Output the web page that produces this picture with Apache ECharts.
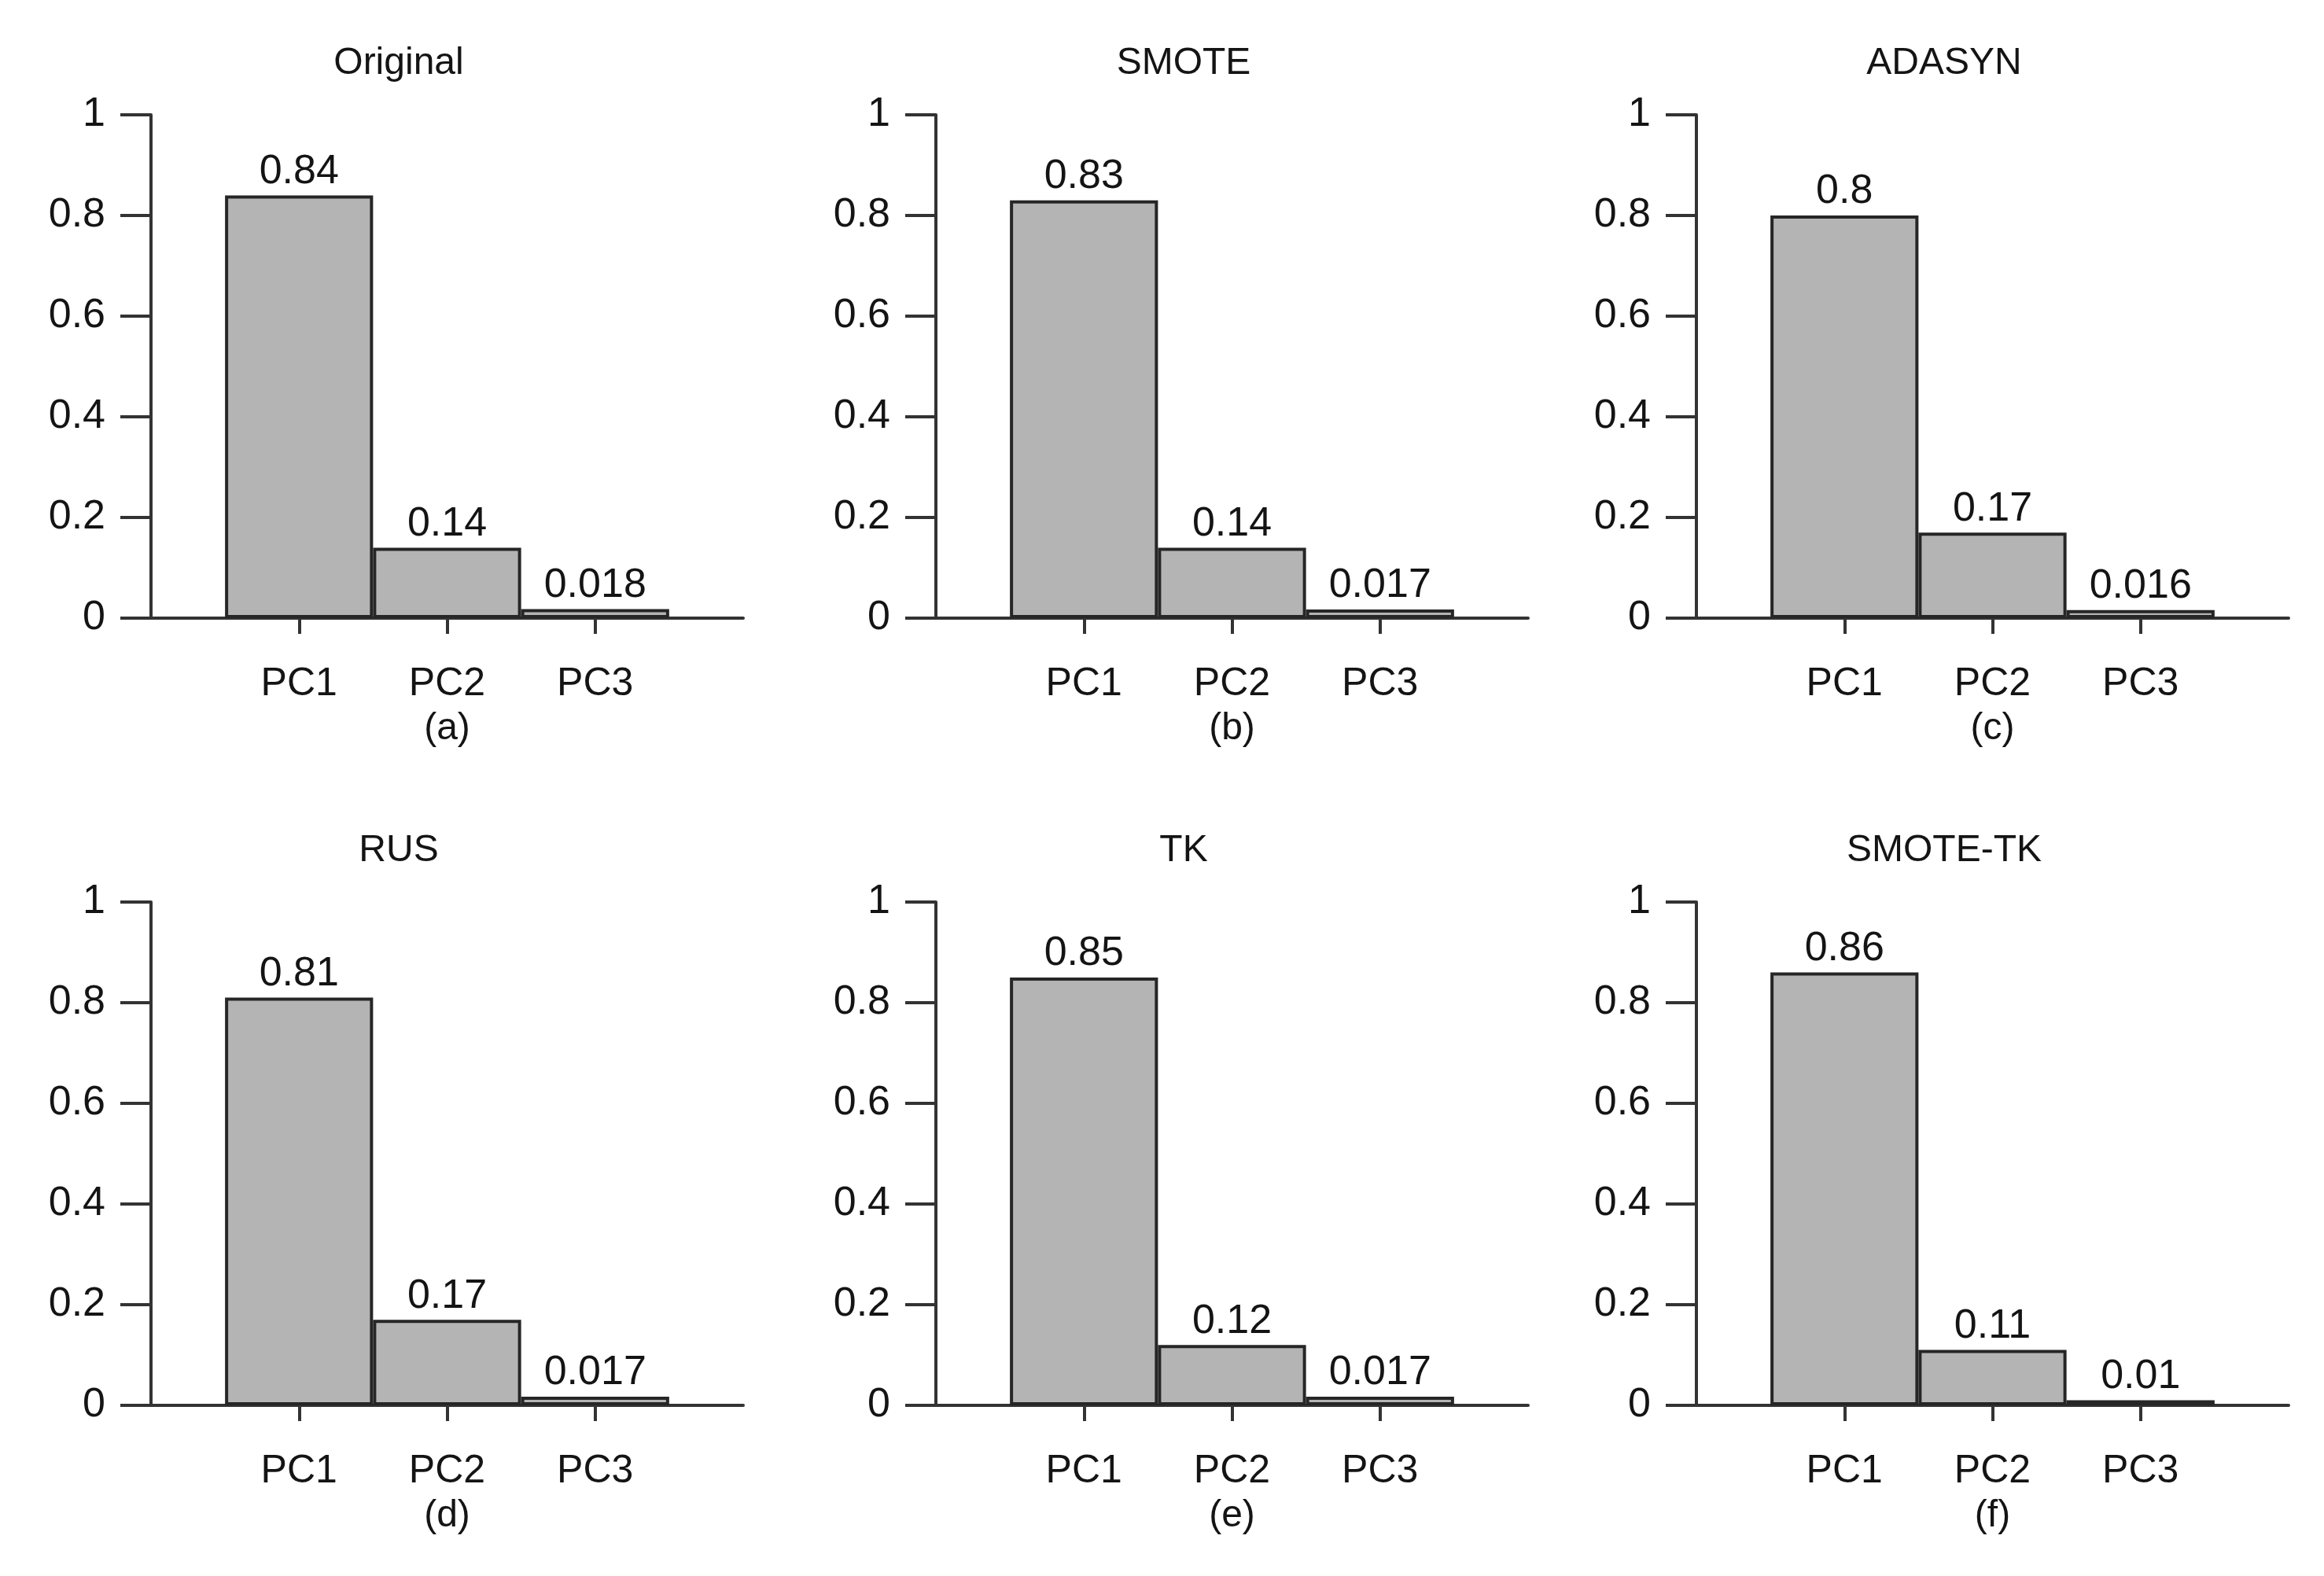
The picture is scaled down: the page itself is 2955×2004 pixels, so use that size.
<!DOCTYPE html>
<html>
<head>
<meta charset="utf-8">
<script src="https://cdn.jsdelivr.net/npm/echarts@6/dist/echarts.min.js"></script>
<style>
  html, body { margin: 0; padding: 0; background: #ffffff; }
  #chart { width: 2955px; height: 2004px; }
</style>
</head>
<body>
<div id="chart"></div>
<script>
// ---- Data ----
const categories = ['PC1', 'PC2', 'PC3'];
const panelTitles = ['Original', 'SMOTE', 'ADASYN', 'RUS', 'TK', 'SMOTE-TK'];
const panelLetters = ['(a)', '(b)', '(c)', '(d)', '(e)', '(f)'];
const originalValues = [0.84, 0.14, 0.018];
const smoteValues = [0.83, 0.14, 0.017];
const adasynValues = [0.8, 0.17, 0.016];
const rusValues = [0.81, 0.17, 0.017];
const tkValues = [0.85, 0.12, 0.017];
const smoteTkValues = [0.86, 0.11, 0.01];
const yMin = 0, yMax = 1, yStep = 0.2;

// ---- Layout ----
const panelValues = [originalValues, smoteValues, adasynValues, rusValues, tkValues, smoteTkValues];
const colLeft = [192, 1190, 2157];
const rowTop = [146, 1147];
const gridW = 753, gridH = 640;
const FONT = "'Liberation Sans', Arial, Helvetica, sans-serif";
const TXT = '#141414';
const LINE = '#333333';

const grids = [], xAxes = [], yAxes = [], series = [], titles = [];
// padded category axis: empty slot at the y-axis and one after the last bar
const axisCats = [''].concat(categories, ['']);

panelValues.forEach((vals, i) => {
  const r = Math.floor(i / 3), c = i % 3;
  grids.push({ left: colLeft[c], top: rowTop[r], width: gridW, height: gridH });
  xAxes.push({
    gridIndex: i,
    type: 'category',
    data: axisCats,
    boundaryGap: false,
    axisLine: { show: true, lineStyle: { color: LINE, width: 4 } },
    axisTick: {
      show: true, inside: false, length: 20,
      interval: (idx) => idx >= 1 && idx <= categories.length,
      lineStyle: { color: LINE, width: 4 }
    },
    axisLabel: { interval: 0, margin: 59, fontSize: 50, color: TXT, fontFamily: FONT },
    splitLine: { show: false },
    name: panelLetters[i],
    nameLocation: 'middle',
    nameGap: 117,
    nameTextStyle: { fontSize: 48, color: TXT, fontFamily: FONT }
  });
  yAxes.push({
    gridIndex: i,
    type: 'value',
    min: yMin, max: yMax, interval: yStep,
    axisLine: { show: true, onZero: false, lineStyle: { color: LINE, width: 4 } },
    axisTick: { show: true, inside: false, length: 39, lineStyle: { color: LINE, width: 4 } },
    axisLabel: { margin: 58, fontSize: 52, color: TXT, fontFamily: FONT },
    splitLine: { show: false }
  });
  series.push({
    type: 'bar',
    xAxisIndex: i,
    yAxisIndex: i,
    barWidth: '100%',
    data: ['-'].concat(vals, ['-']),
    itemStyle: { color: '#b4b4b4', borderColor: '#262626', borderWidth: 4 },
    label: {
      show: true, position: 'top', distance: 4,
      fontSize: 52, color: TXT, fontFamily: FONT
    },
    silent: true,
    animation: false
  });
  titles.push({
    text: panelTitles[i],
    left: colLeft[c] + 315,
    top: rowTop[r] - 89,
    textAlign: 'center',
    padding: 0,
    textStyle: { fontSize: 48, fontWeight: 'normal', color: TXT, fontFamily: FONT }
  });
});

const chart = echarts.init(document.getElementById('chart'), null, { renderer: 'canvas' });
chart.setOption({
  backgroundColor: '#ffffff',
  animation: false,
  title: titles,
  grid: grids,
  xAxis: xAxes,
  yAxis: yAxes,
  series: series
});
</script>
</body>
</html>
